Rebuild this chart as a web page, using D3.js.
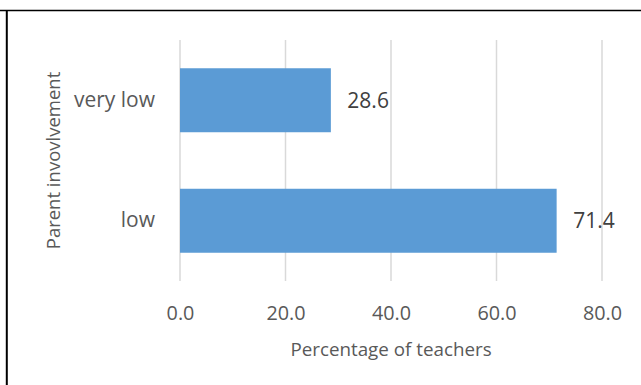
<!DOCTYPE html>
<html>
<head>
<meta charset="utf-8">
<script src="https://cdn.jsdelivr.net/npm/d3@7"></script>
<style>
  html, body { margin: 0; padding: 0; background: #fff; }
  svg { display: block; font-family: "Open Sans", sans-serif; }
</style>
</head>
<body>
<svg id="chart" width="641" height="385"></svg>
<script>
const categories = ["very low", "low"];
const values = [28.6, 71.4];
const tickValues = [0, 20, 40, 60, 80];
const xTitle = "Percentage of teachers";
const yTitle = "Parent invovlvement";

const svg = d3.select("#chart");
const plot = { left: 180, right: 602, top: 40, bottom: 281 };

const x = d3.scaleLinear().domain([0, 80]).range([plot.left, plot.right]);
const y = d3.scaleBand().domain(categories).range([plot.top, plot.bottom])
  .paddingInner(0.469).paddingOuter(0.2345);

// frame lines
svg.append("line").attr("x1", 0).attr("x2", 641).attr("y1", 10.5).attr("y2", 10.5)
  .attr("stroke", "#000").attr("stroke-width", 1.3);
svg.append("line").attr("x1", 6.8).attr("x2", 6.8).attr("y1", 10).attr("y2", 385)
  .attr("stroke", "#000").attr("stroke-width", 2);

// gridlines
svg.append("g").selectAll("line").data(tickValues).join("line")
  .attr("x1", d => x(d)).attr("x2", d => x(d))
  .attr("y1", plot.top).attr("y2", plot.bottom)
  .attr("stroke", "#d9d9d9").attr("stroke-width", 1.5);

// x axis tick labels
const xAxis = d3.axisBottom(x).tickValues(tickValues).tickFormat(d3.format(".1f")).tickSize(0).tickPadding(0);
const gx = svg.append("g").attr("transform", `translate(0,${plot.bottom})`).call(xAxis);
gx.select(".domain").remove();
gx.selectAll("text").attr("dy", null).attr("y", 39)
  .attr("fill", "#595959").style("font-size", "19.8px").style("font-family", "Open Sans");

// bars
svg.append("g").selectAll("rect").data(values).join("rect")
  .attr("x", x(0)).attr("y", (d, i) => y(categories[i]))
  .attr("width", d => x(d) - x(0)).attr("height", y.bandwidth())
  .attr("fill", "#5b9bd5");

// data labels
svg.append("g").selectAll("text").data(values).join("text")
  .attr("x", d => x(d) + 16.5).attr("y", (d, i) => y(categories[i]) + y.bandwidth() / 2)
  .attr("dy", "0.35em").attr("fill", "#404040").style("font-size", "21px")
  .text(d => d.toFixed(1));

// category labels
const yAxis = d3.axisLeft(y).tickSize(0).tickPadding(25);
const gy = svg.append("g").attr("transform", `translate(${plot.left},0)`).call(yAxis);
gy.select(".domain").remove();
gy.selectAll("text").attr("fill", "#595959").style("font-size", "21px").style("font-family", "Open Sans");

// axis titles
svg.append("text").attr("x", (plot.left + plot.right) / 2).attr("y", 356)
  .attr("text-anchor", "middle").attr("fill", "#595959").style("font-size", "18.8px")
  .text(xTitle);
svg.append("text").attr("transform", `translate(59.5,${(plot.top + plot.bottom) / 2}) rotate(-90)`)
  .attr("text-anchor", "middle").attr("fill", "#595959").style("font-size", "18.5px")
  .text(yTitle);
</script>
</body>
</html>
